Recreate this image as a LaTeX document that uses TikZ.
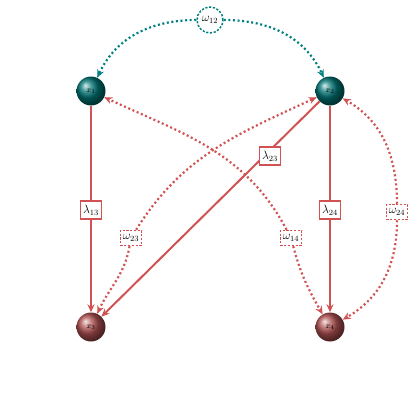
\documentclass[tikz,border=0pt]{standalone}
\usetikzlibrary{arrows.meta,shapes.geometric}
\definecolor{lred}{RGB}{208,82,82}
\definecolor{lteal}{RGB}{0,128,128}
\definecolor{ballteal}{RGB}{0,115,115}
\definecolor{ballred}{RGB}{175,80,80}
\begin{document}
\begin{tikzpicture}[x=1pt,y=-1pt,
  ball/.style={circle,minimum size=29pt,inner sep=0pt,shading=ball,font=\footnotesize,text=black},
  tball/.style={ball,ball color=ballteal},
  rball/.style={ball,ball color=ballred},
  lam/.style={draw=lred,line width=1.6pt,fill=white,inner sep=2.5pt,minimum height=18pt,font=\large},
  om/.style={draw=lred,line width=1.5pt,dash pattern=on 2.2pt off 1.6pt,fill=white,inner sep=2.5pt,minimum height=15pt,font=\large},
  sol/.style={draw=lred,line width=2pt,-{Stealth[length=8pt,width=7pt]}},
  dot/.style={draw=lred,line width=2.2pt,dash pattern=on 2pt off 2.6pt,-{Stealth[length=8pt,width=7pt]}},
  tdot/.style={draw=lteal,line width=2.2pt,dash pattern=on 2pt off 2.6pt,-{Stealth[length=8pt,width=7pt]}}
]
\useasboundingbox (0,0) rectangle (420,420);
\node[tball] (x1) at (91,91) {$x_1$};
\node[tball] (x2) at (330,91) {$x_2$};
\node[rball] (x3) at (91,327) {$x_3$};
\node[rball] (x4) at (330,327) {$x_4$};
\draw[sol] (x1) -- (x3);
\draw[sol] (x2) -- (x4);
\draw[sol] (x2) -- (x3);
\node[lam] (l13) at (91,210) {$\lambda_{13}$};
\node[lam] (l24) at (330,210) {$\lambda_{24}$};
\node[lam] (l23) at (270,156) {$\lambda_{23}$};
\node[om] (w23) at (131,238) {$\omega_{23}$};
\node[om] (w14) at (291,238) {$\omega_{14}$};
\node[om] (w24) at (397,212) {$\omega_{24}$};
\node[circle,draw=lteal,line width=1.5pt,dash pattern=on 2.2pt off 1.6pt,fill=white,inner sep=0.5pt,minimum size=26pt,font=\large] (w12) at (210,20) {$\omega_{12}$};
\draw[tdot] (w12) to[out=180,in=65] (x1);
\draw[tdot] (w12) to[out=0,in=115] (x2);
\draw[dot] (w23) to[out=-100,in=65] (x3);
\draw[dot] (w23) to[out=58,in=205] (x2);
\draw[dot] (w14) to[out=118,in=-25] (x1);
\draw[dot] (w14) to[out=-75,in=120] (x4);
\draw[dot] (w24) to[out=90,in=-30] (x2);
\draw[dot] (w24) to[out=-90,in=30] (x4);
\end{tikzpicture}
\end{document}
